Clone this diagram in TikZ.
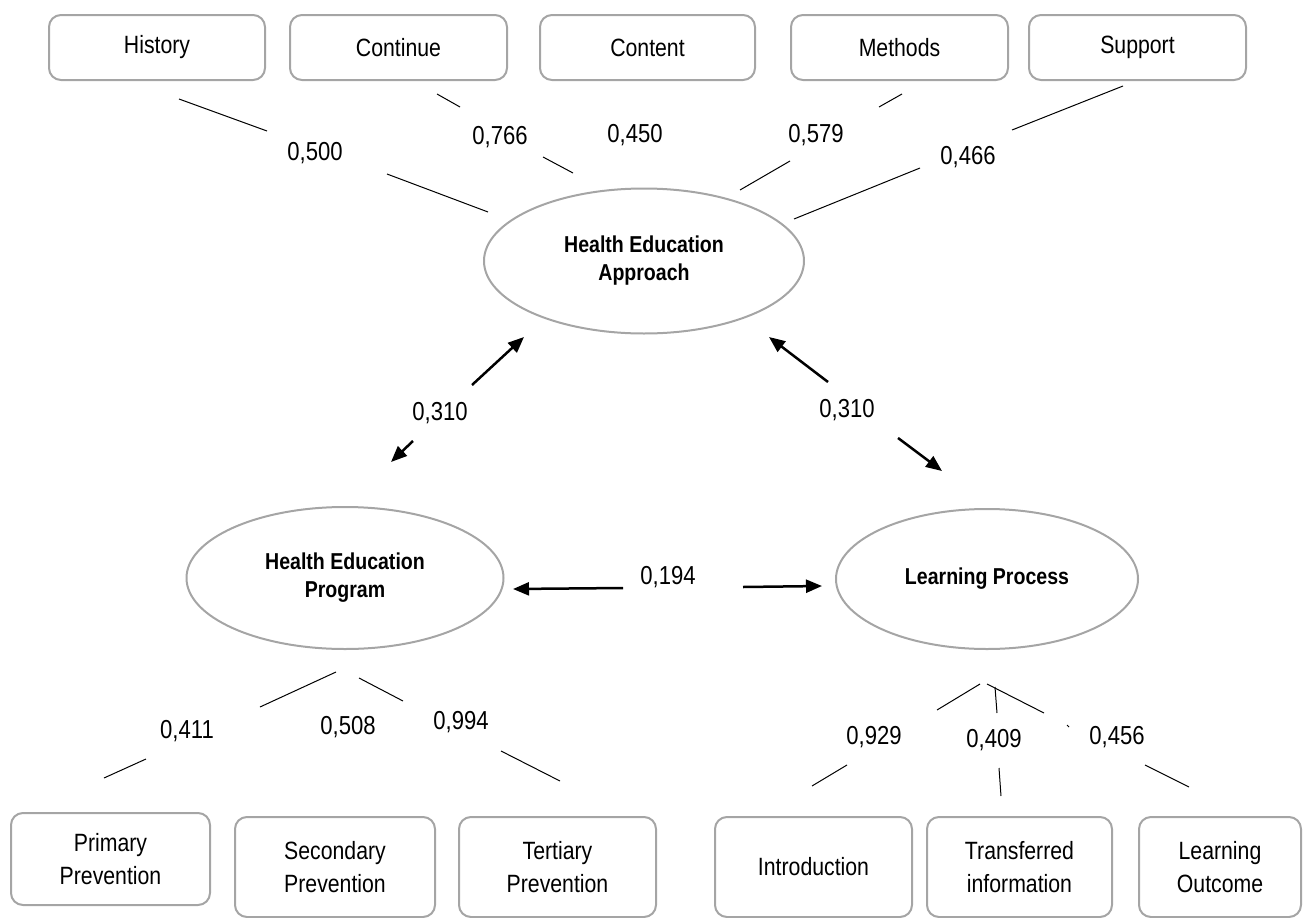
\documentclass[tikz,border=0pt]{standalone}
\usepackage{fontspec}
\setmainfont{Liberation Sans}[FakeStretch=0.85]
\usetikzlibrary{arrows.meta,shapes.geometric}
\definecolor{frame}{RGB}{165,165,165}

\begin{document}
\begin{tikzpicture}[x=1pt,y=-1pt,
  item/.style={draw=frame,line width=2pt,rounded corners=12pt,align=center,inner sep=0pt,font=\fontsize{25}{33}\selectfont},
  factor/.style={draw=frame,line width=2pt,ellipse,inner sep=0pt,align=center,font=\fontsize{23}{28}\selectfont\bfseries},
  load/.style={inner sep=0pt,font=\fontsize{26}{30}\selectfont},
  link/.style={line width=1pt},
  corr/.style={line width=2.5pt,-{Triangle[length=16pt,width=13pt]}}]
\useasboundingbox (0,0) rectangle (1309,918);
\node[item,minimum width=216,minimum height=65] (hist) at (157,47.5) {History};
\node[item,minimum width=217,minimum height=65] (cont) at (398.5,47.5) {Continue};
\node[item,minimum width=215,minimum height=65] (cntn) at (647.5,47.5) {Content};
\node[item,minimum width=217,minimum height=65] (meth) at (899.5,47.5) {Methods};
\node[item,minimum width=217,minimum height=65] (supp) at (1137.5,47.5) {Support};
\node[factor,minimum width=320,minimum height=145] (hea) at (644,261) {Health Education\\Approach};
\node[factor,minimum width=317,minimum height=142] (hep) at (345,578) {Health Education\\Program};
\node[factor,minimum width=302,minimum height=140] (lp) at (987,579) {Learning Process};
\node[item,minimum width=199,minimum height=92] (prim) at (110.5,859) {Primary\\Prevention};
\node[item,minimum width=200,minimum height=100] (seco) at (335,867) {Secondary\\Prevention};
\node[item,minimum width=197,minimum height=100] (tert) at (557.5,867) {Tertiary\\Prevention};
\node[item,minimum width=197,minimum height=100] (intr) at (813.5,867) {Introduction};
\node[item,minimum width=185,minimum height=100] (tran) at (1019.5,867) {Transferred\\information};
\node[item,minimum width=162,minimum height=100] (outc) at (1220,867) {Learning\\Outcome};
\node[load] (vhist) at (315,153) {0,500};
\node[load] (vcont) at (500,137) {0,766};
\node[load] (vcntn) at (635,135) {0,450};
\node[load] (vmeth) at (816,135) {0,579};
\node[load] (vsupp) at (968,157) {0,466};
\node[load] (vleft) at (440,413) {0,310};
\node[load] (vright) at (847,410) {0,310};
\node[load] (vmid) at (668,577) {0,194};
\node[load] (vprim) at (187,731) {0,411};
\node[load] (vseco) at (348,727) {0,508};
\node[load] (vtert) at (461,722) {0,994};
\node[load] (vintr) at (874,737) {0,929};
\node[load] (vtran) at (994,740) {0,409};
\node[load] (voutc) at (1117,737) {0,456};
\path
  coordinate (hist1) at (179,99)
  coordinate (hist2) at (267,131)
  coordinate (hist3) at (387,174)
  coordinate (hist4) at (488,212)
  coordinate (cont1) at (437,94)
  coordinate (cont2) at (460,107)
  coordinate (cont3) at (543,157)
  coordinate (cont4) at (573,173)
  coordinate (meth1) at (902,94)
  coordinate (meth2) at (879,107)
  coordinate (meth3) at (790,161)
  coordinate (meth4) at (740,190)
  coordinate (supp1) at (1123,86)
  coordinate (supp2) at (1012,130)
  coordinate (supp3) at (920,168)
  coordinate (supp4) at (794,219)
  coordinate (prim1) at (336,672)
  coordinate (prim2) at (260,707)
  coordinate (prim3) at (146,759)
  coordinate (prim4) at (104,778)
  coordinate (tert1) at (359,678)
  coordinate (tert2) at (403,701)
  coordinate (tert3) at (501,751)
  coordinate (tert4) at (560,781)
  coordinate (intr1) at (980,684)
  coordinate (intr2) at (937,710)
  coordinate (intr3) at (847,765)
  coordinate (intr4) at (812,786)
  coordinate (tran1) at (995,687)
  coordinate (tran2) at (997,713)
  coordinate (tran3) at (999,768)
  coordinate (tran4) at (1001,796)
  coordinate (outc1) at (987,684)
  coordinate (outc2) at (1044,713)
  coordinate (outc3) at (1067,725)
  coordinate (outc4) at (1069,727)
  coordinate (outc5) at (1145,765)
  coordinate (outc6) at (1189,787)
  coordinate (left1) at (472,385)
  coordinate (left2) at (524,337)
  coordinate (left3) at (413,441)
  coordinate (left4) at (391,462)
  coordinate (right1) at (828,382)
  coordinate (right2) at (769,337)
  coordinate (right3) at (898,438)
  coordinate (right4) at (942,471)
  coordinate (mid1) at (623,588)
  coordinate (mid2) at (513,589)
  coordinate (mid3) at (743,587)
  coordinate (mid4) at (822,586)
  ;
\draw[link] (hist1) -- (hist2) (hist3) -- (hist4);
\draw[link] (cont1) -- (cont2) (cont3) -- (cont4);
\draw[link] (meth1) -- (meth2) (meth3) -- (meth4);
\draw[link] (supp1) -- (supp2) (supp3) -- (supp4);
\draw[link] (prim1) -- (prim2) (prim3) -- (prim4);
\draw[link] (tert1) -- (tert2) (tert3) -- (tert4);
\draw[link] (intr1) -- (intr2) (intr3) -- (intr4);
\draw[link] (tran1) -- (tran2) (tran3) -- (tran4);
\draw[link] (outc1) -- (outc2) (outc3) -- (outc4) (outc5) -- (outc6);
\draw[corr] (left1) -- (left2);
\draw[corr] (left3) -- (left4);
\draw[corr] (right1) -- (right2);
\draw[corr] (right3) -- (right4);
\draw[corr] (mid1) -- (mid2);
\draw[corr] (mid3) -- (mid4);
\end{tikzpicture}
\end{document}
